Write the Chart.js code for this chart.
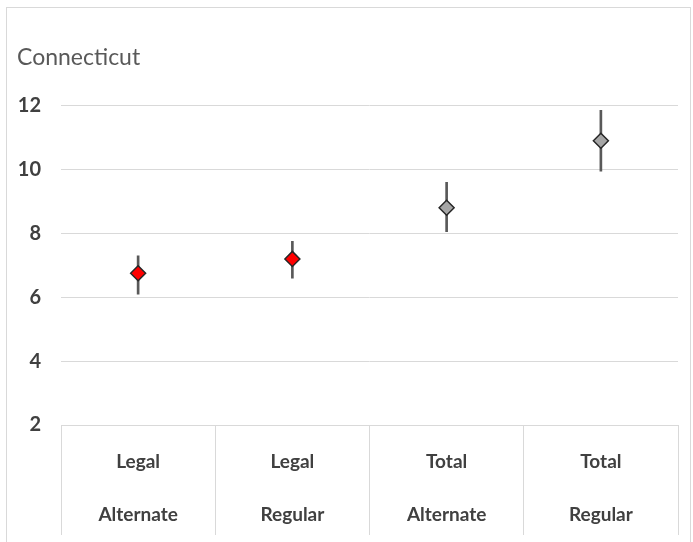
<!DOCTYPE html>
<html>
<head>
<meta charset="utf-8">
<script src="https://cdn.jsdelivr.net/npm/chart.js@4/dist/chart.umd.min.js"></script>
<style>
  body { margin: 0; background: #fff; }
  .frame { position: absolute; left: 6px; top: 7px; width: 685px; height: 545px; border: 1px solid #d9d9d9; box-sizing: border-box; }
  #c { position: absolute; left: 0; top: 0; }
</style>
</head>
<body>
<div class="frame"></div>
<canvas id="c" width="693" height="542"></canvas>
<script>
var categories = [['Legal', 'Alternate'], ['Legal', 'Regular'], ['Total', 'Alternate'], ['Total', 'Regular']];
var means = [6.75, 7.2, 8.8, 10.9];
var lower = [6.1, 6.6, 8.05, 9.95];
var upper = [7.3, 7.75, 9.6, 11.85];
var pointColors = ['#ff0000', '#ff0000', '#a6a6a6', '#a6a6a6'];
var yTicks = [2, 4, 6, 8, 10, 12];

var errorBars = []
for (var i = 0; i < means.length; i++) {
  errorBars.push([lower[i], upper[i]])
}

var ctx = document.getElementById('c').getContext('2d');
var chart = new Chart(ctx, {
  data: {
    labels: categories,
    datasets: [{
      type: 'line',
      label: 'mean',
      data: means,
      showLine: false,
      pointStyle: 'rectRot',
      pointRadius: 7.5,
      pointBackgroundColor: pointColors,
      pointBorderColor: '#262626',
      pointBorderWidth: 1.5,
      order: 1
    }, {
      type: 'bar',
      label: 'range',
      data: errorBars,
      backgroundColor: '#595959',
      barThickness: 2,
      order: 2
    }]
  },
  options: {
    responsive: false,
    animation: false,
    layout: { padding: { left: 17, right: 15, top: 39, bottom: 0 } },
    plugins: {
      legend: { display: false },
      tooltip: { enabled: false },
      title: {
        display: true,
        text: 'Connecticut',
        align: 'start',
        color: '#595959',
        font: { family: 'Lato', size: 23, weight: 'normal' },
        padding: { top: 5, bottom: 34 }
      }
    },
    scales: {
      x: {
        offset: true,
        grid: { offset: true, drawOnChartArea: false, color: '#d9d9d9', tickLength: 110 },
        border: { color: '#d9d9d9' },
        ticks: {
          color: '#404040',
          font: { family: 'Lato', size: 19, weight: 'bold', lineHeight: 2.8 },
          padding: -99.5,
          maxRotation: 0
        },
        afterFit: function(scale) { scale.height = 117; }
      },
      y: {
        min: 2,
        max: 12,
        afterBuildTicks: function(scale) { scale.ticks = yTicks.map(v => ({ value: v })); },
        grid: { color: '#d9d9d9', drawTicks: false },
        border: { display: false },
        ticks: {
          color: '#404040',
          font: { family: 'Lato', size: 20, weight: 'bold' },
          padding: 20
        },
        afterFit: function(scale) { scale.width = 44; }
      }
    }
  }
});
</script>
</body>
</html>
